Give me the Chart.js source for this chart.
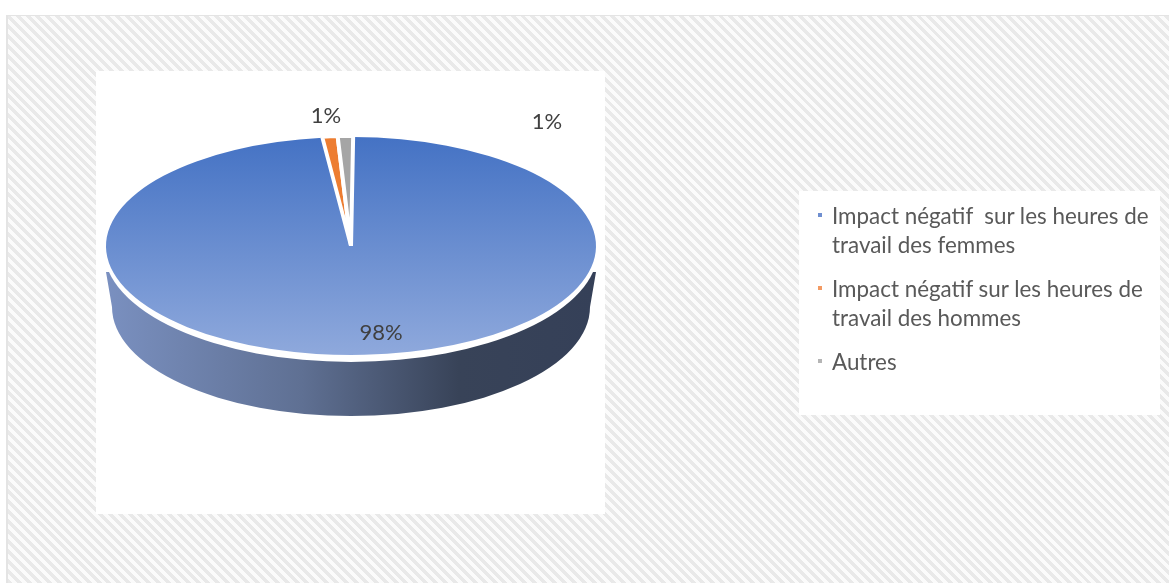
<!DOCTYPE html>
<html lang="fr">
<head>
<meta charset="utf-8">
<title>Impact sur les heures de travail</title>
<script src="https://cdn.jsdelivr.net/npm/chart.js@4"></script>
<style>
  html, body { margin: 0; padding: 0; background: #fff; }
  #page { position: relative; width: 1169px; height: 583px; overflow: hidden; }
  #hatch {
    position: absolute; left: 6px; top: 15px; right: 0; bottom: 0;
    border-left: 2px solid #e4e4e4; border-top: 1px solid #e4e4e4;
    background: repeating-linear-gradient(45deg, #e9e9e9 0, #e9e9e9 3.5px, #fbfbfb 3.5px, #fbfbfb 7px);
  }
  #chartPanel { position: absolute; left: 96px; top: 71px; width: 509px; height: 443px; background: #fff; }
  #legendPanel { position: absolute; left: 799px; top: 191px; width: 361px; height: 224px; background: #fff; }
  #chart { position: absolute; left: 0; top: 0; }
  #legend {
    position: absolute; left: 832px; top: 201px; margin: 0; padding: 0; list-style: none;
    font: 22.4px/29px Lato, sans-serif; color: #595959;
  }
  #legend li { position: relative; margin-bottom: 15px; white-space: pre; }
  #legend i { position: absolute; left: -14px; top: 12px; width: 4px; height: 4px; }
</style>
</head>
<body>
<div id="page">
  <div id="hatch"></div>
  <div id="chartPanel"></div>
  <div id="legendPanel"></div>
  <canvas id="chart" width="1169" height="583"></canvas>
  <ul id="legend"></ul>
</div>
<script>
const categories = [
  "Impact négatif  sur les heures de\ntravail des femmes",
  "Impact négatif sur les heures de\ntravail des hommes",
  "Autres"
];
const shares = [98, 1, 1];
const sliceColors = ["#4472C4", "#ED7D31", "#A5A5A5"];
const markerColors = ["#6f8fd0", "#f39a63", "#b5b5b5"];

// where each percentage sits on the canvas
const labelSpots = [[381, 333], [326, 116], [547, 122]];

const FACE_CY = 246;       // centre of the tilted top face
const FACE_SQUASH = 109 / 245;
const WALL_DEPTH = 61;

// tilts the pie into an ellipse and paints the side wall underneath it
const tiltPlugin = {
  id: "tilt",
  beforeDatasetsDraw(chart) {
    const { ctx } = chart;
    const arc = chart.getDatasetMeta(0).data[0];
    const rx = arc.outerRadius;
    const ry = rx * FACE_SQUASH;
    const cx = arc.x;

    const wall = ctx.createLinearGradient(cx - rx, 0, cx + rx, 0);
    wall.addColorStop(0, "#7a90c0");
    wall.addColorStop(0.4, "#5f7093");
    wall.addColorStop(0.72, "#384358");
    wall.addColorStop(1, "#354058");

    ctx.save();
    ctx.fillStyle = wall;
    ctx.beginPath();
    ctx.moveTo(cx - rx, FACE_CY + 26);
    ctx.lineTo(cx - rx + 6, FACE_CY + WALL_DEPTH);
    ctx.ellipse(cx, FACE_CY + WALL_DEPTH, rx - 6, ry, 0, Math.PI, 0, true);
    ctx.lineTo(cx + rx, FACE_CY + 26);
    ctx.closePath();
    ctx.fill();

    // white rim between face and wall
    ctx.fillStyle = "#fff";
    ctx.beginPath();
    ctx.ellipse(cx, FACE_CY + 3.5, rx + 2, ry + 3.5, 0, 0, Math.PI * 2);
    ctx.fill();
    ctx.restore();

    ctx.save();
    ctx.translate(cx, FACE_CY);
    ctx.scale(1, FACE_SQUASH);
    ctx.translate(-cx, -arc.y);
  },
  afterDatasetsDraw(chart) {
    const { ctx } = chart;
    ctx.restore();

    ctx.save();
    ctx.font = "22px Lato, sans-serif";
    ctx.fillStyle = "#404040";
    ctx.textAlign = "center";
    ctx.textBaseline = "middle";
    shares.forEach((v, i) => {
      ctx.fillText(v + "%", labelSpots[i][0], labelSpots[i][1]);
    });
    ctx.restore();
  }
};

new Chart(document.getElementById("chart"), {
  type: "pie",
  data: {
    labels: categories,
    datasets: [{
      data: shares,
      clip: false,
      backgroundColor(c) {
        if (c.dataIndex !== 0 || !c.chart.chartArea) return sliceColors[c.dataIndex];
        const { top, bottom } = c.chart.chartArea;
        const g = c.chart.ctx.createLinearGradient(0, top, 0, bottom);
        g.addColorStop(0, "#4472C4");
        g.addColorStop(1, "#8FA9DC");
        return g;
      },
      borderColor: "#fff",
      borderWidth: [0, 4, 4]
    }]
  },
  options: {
    responsive: false,
    animation: false,
    rotation: 0.5,
    layout: { padding: { left: 104, right: 571, top: 0, bottom: 89 } },
    plugins: { legend: { display: false }, tooltip: { enabled: false } }
  },
  plugins: [tiltPlugin]
});

// html legend so the long labels can wrap over two lines
const legendEl = document.getElementById("legend");
categories.forEach((name, i) => {
  const li = document.createElement("li");
  li.textContent = name;
  const mark = document.createElement("i");
  mark.style.background = markerColors[i];
  li.appendChild(mark);
  legendEl.appendChild(li);
});
</script>
</body>
</html>
